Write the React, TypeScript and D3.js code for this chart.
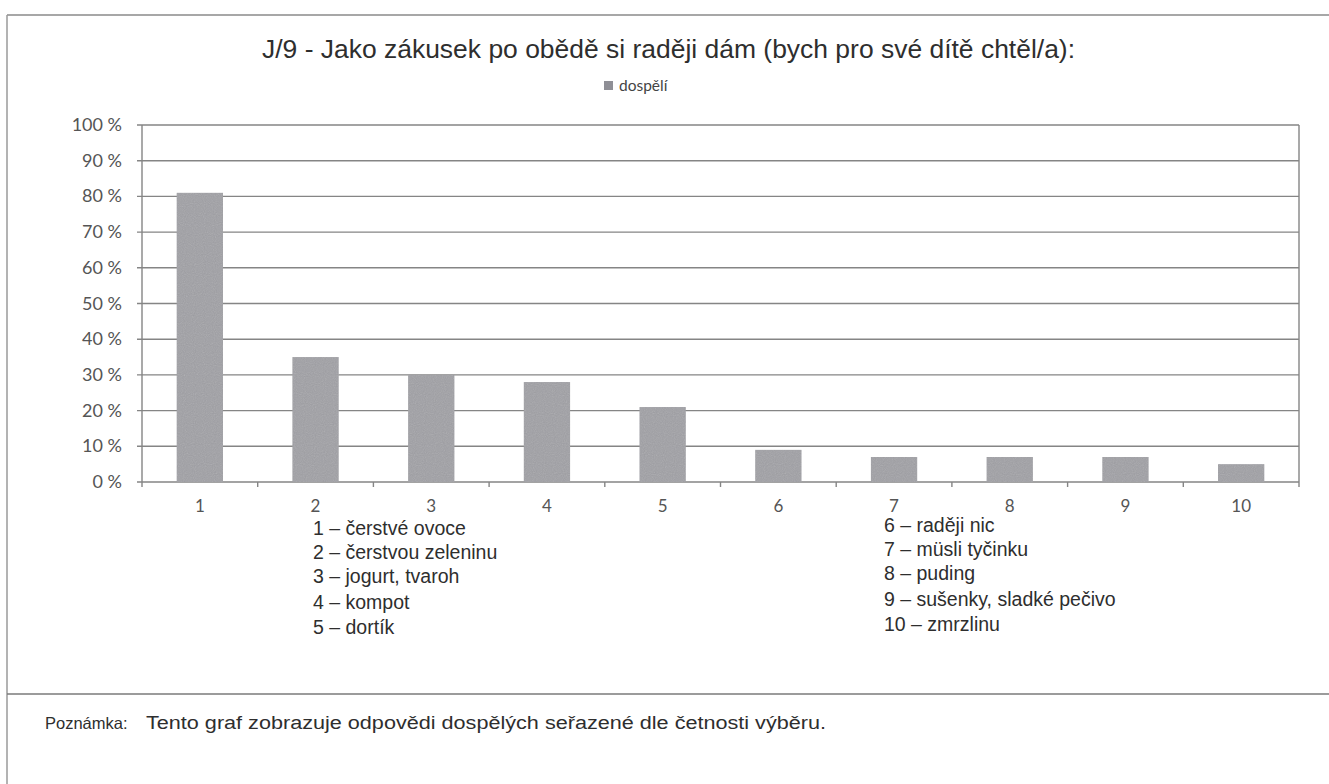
import React from "react";
import * as d3 from "d3";

const categories = ["1", "2", "3", "4", "5", "6", "7", "8", "9", "10"];
const values = [81, 35, 30, 28, 21, 9, 7, 7, 7, 5];
const yTicks = [0, 10, 20, 30, 40, 50, 60, 70, 80, 90, 100];
const seriesName = "dospělí";
const title = "J/9 - Jako zákusek po obědě si raději dám (bych pro své dítě chtěl/a):";
const listLeft = ["1 – čerstvé ovoce", "2 – čerstvou zeleninu", "3 – jogurt, tvaroh", "4 – kompot", "5 – dortík"];
const listRight = ["6 – raději nic", "7 – müsli tyčinku", "8 – puding", "9 – sušenky, sladké pečivo", "10 – zmrzlinu"];
const noteLabel = "Poznámka:";
const noteText = "Tento graf zobrazuje odpovědi dospělých seřazené dle četnosti výběru.";

const W = 1329;
const H = 784;
const plot = { left: 142, right: 1299, top: 125, bottom: 482 };

export default function App() {
  const x = d3.scaleBand<string>().domain(categories).range([plot.left, plot.right]).paddingInner(0.6).paddingOuter(0.3);
  const xOuter = d3.scaleBand<string>().domain(categories).range([plot.left, plot.right]);
  const y = d3.scaleLinear().domain([0, 100]).range([plot.bottom, plot.top]);
  const arial = "'Liberation Sans', Arial, sans-serif";
  const calibri = "Lato, 'Open Sans', sans-serif";
  const lineYs = [535, 559, 583, 609, 634];

  return (
    <svg width={W} height={H} style={{ position: "absolute", left: 0, top: 0, background: "#fff" }}>
      <defs>
        <filter id="grain" x="0" y="0" width="100%" height="100%">
          <feTurbulence type="fractalNoise" baseFrequency="0.9" numOctaves="1" result="n" />
          <feColorMatrix type="saturate" values="0" in="n" result="g" />
          <feComponentTransfer in="g" result="g2">
            <feFuncA type="linear" slope="0.25" />
          </feComponentTransfer>
          <feComposite in="g2" in2="SourceGraphic" operator="in" result="c" />
          <feMerge>
            <feMergeNode in="SourceGraphic" />
            <feMergeNode in="c" />
          </feMerge>
        </filter>
      </defs>
      <rect x={0} y={0} width={W} height={H} fill="#fff" />
      {/* outer frame */}
      <line x1={7} x2={W} y1={15} y2={15} stroke="#8a8a8a" strokeWidth={1.5} />
      <line x1={7} x2={7} y1={15} y2={H} stroke="#9a9a9a" strokeWidth={1.5} />
      <line x1={7} x2={W} y1={694} y2={694} stroke="#7a7a7a" strokeWidth={1.5} />

      {/* title */}
      <text x={262} y={58} textLength={813} lengthAdjust="spacingAndGlyphs" fontFamily={arial} fontSize={25} fill="#2e2e2e">
        {title}
      </text>
      {/* legend */}
      <rect x={604} y={81} width={9} height={9} fill="#8f8f96" />
      <text x={619} y={91} fontFamily={calibri} fontSize={15.5} fill="#444">
        {seriesName}
      </text>

      {/* gridlines */}
      {yTicks.map((t) => (
        <g key={t}>
          <line x1={plot.left - 5} x2={plot.right} y1={y(t)} y2={y(t)} stroke="#858585" strokeWidth={1.4} />
          <text x={122} y={y(t) + 6} textAnchor="end" fontFamily={calibri} fontSize={18} fill="#555">
            {t} %
          </text>
        </g>
      ))}
      {/* axes */}
      <line x1={plot.left} x2={plot.left} y1={plot.top} y2={plot.bottom + 5} stroke="#858585" strokeWidth={1.4} />
      <line x1={plot.right} x2={plot.right} y1={plot.top} y2={plot.bottom + 5} stroke="#858585" strokeWidth={1.4} />
      {categories.slice(1).map((c) => (
        <line key={c} x1={xOuter(c)!} x2={xOuter(c)!} y1={plot.bottom} y2={plot.bottom + 5} stroke="#858585" strokeWidth={1.4} />
      ))}

      {/* bars */}
      {categories.map((c, i) => (
        <rect
          key={c}
          x={x(c)!}
          y={y(values[i])}
          width={x.bandwidth()}
          height={plot.bottom - y(values[i])}
          fill="#a0a0a5"
          filter="url(#grain)"
        />
      ))}

      {/* x labels */}
      {categories.map((c) => (
        <text key={c} x={xOuter(c)! + xOuter.bandwidth() / 2} y={512} textAnchor="middle" fontFamily={calibri} fontSize={17} fill="#555">
          {c}
        </text>
      ))}

      {/* category key */}
      {listLeft.map((s, i) => (
        <text key={s} x={313} y={lineYs[i]} fontFamily={arial} fontSize={19.5} fill="#2e2e2e">
          {s}
        </text>
      ))}
      {listRight.map((s, i) => (
        <text key={s} x={884} y={lineYs[i] - 3} fontFamily={arial} fontSize={19.5} fill="#2e2e2e">
          {s}
        </text>
      ))}

      {/* note */}
      <text x={45} y={729} fontFamily={arial} fontSize={16.5} fill="#2e2e2e">
        {noteLabel}
      </text>
      <text x={146} y={729} textLength={680} lengthAdjust="spacingAndGlyphs" fontFamily={arial} fontSize={18} fill="#2e2e2e">
        {noteText}
      </text>
    </svg>
  );
}
